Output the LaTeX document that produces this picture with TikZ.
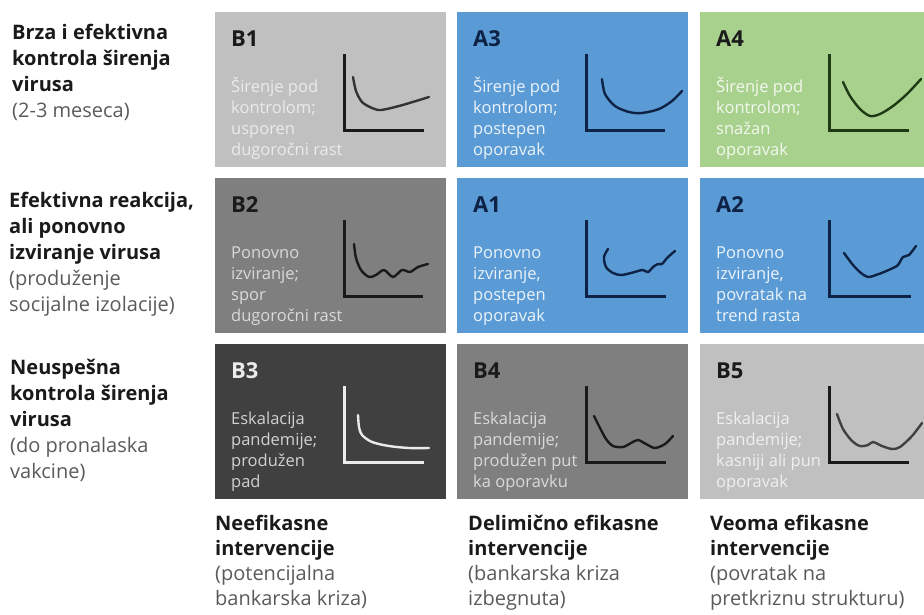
\documentclass[tikz,border=0pt]{standalone}
\usepackage{fontspec}
\setmainfont{Open Sans}

\definecolor{lightgrey}{HTML}{C0C0C0}
\definecolor{midgrey}{HTML}{7F7F7F}
\definecolor{darkgrey}{HTML}{404040}
\definecolor{officeblue}{HTML}{5B9BD5}
\definecolor{officegreen}{HTML}{A9D18E}
\definecolor{navy}{HTML}{0E2245}
\definecolor{forest}{HTML}{1E3A14}
\definecolor{ink}{HTML}{1A1A1A}
\definecolor{note}{HTML}{5A5A5A}

% multi-line nodes sit on the baseline of their last line
\tikzset{
  cell/.style={anchor=north west, minimum width=231pt, minimum height=155pt, inner sep=0pt},
  code/.style={anchor=base west, inner sep=0pt, font=\fontsize{22}{26}\selectfont\bfseries},
  blurb/.style={anchor=base west, inner sep=0pt, align=left, font=\fontsize{16.5}{20.7}\selectfont},
  heading/.style={anchor=base west, inner sep=0pt, align=left, text=ink, font=\fontsize{20}{25.8}\selectfont},
  axes/.style={line width=3pt},
  trend/.style={line width=2.4pt, line cap=round},
}

\begin{document}
\begin{tikzpicture}[x=1pt, y=-1pt]
  \useasboundingbox (0,0) rectangle (924,614);

  % row headings
  \node[heading] (quick) at (12,117) {\textbf{Brza i efektivna}\\\textbf{kontrola širenja}\\\textbf{virusa}\\\textcolor{note}{(2-3 meseca)}};
  \node[heading] (relapse) at (9,311) {\textbf{Efektivna reakcija,}\\\textbf{ali ponovno}\\\textbf{izviranje virusa}\\\textcolor{note}{(produženje}\\\textcolor{note}{socijalne izolacije)}};
  \node[heading] (failed) at (10,478) {\textbf{Neuspešna}\\\textbf{kontrola širenja}\\\textbf{virusa}\\\textcolor{note}{(do pronalaska}\\\textcolor{note}{vakcine)}};

  % column headings
  \node[heading, font=\fontsize{20}{25}\selectfont] (weak) at (215,605) {\textbf{Neefikasne}\\\textbf{intervencije}\\\textcolor{note}{(potencijalna}\\\textcolor{note}{bankarska kriza)}};
  \node[heading, font=\fontsize{20}{25}\selectfont] (partial) at (468,605) {\textbf{Delimično efikasne}\\\textbf{intervencije}\\\textcolor{note}{(bankarska kriza}\\\textcolor{note}{izbegnuta)}};
  \node[heading, font=\fontsize{20}{25}\selectfont] (strong) at (710,605) {\textbf{Veoma efikasne}\\\textbf{intervencije}\\\textcolor{note}{(povratak na}\\\textcolor{note}{pretkriznu strukturu)}};

  % cells
  \node[cell, fill=lightgrey] (b1) at (215,12) {};
  \node[cell, fill=officeblue] (a3) at (457,12) {};
  \node[cell, fill=officegreen, minimum width=224pt] (a4) at (700,12) {};
  \node[cell, fill=midgrey] (b2) at (215,178) {};
  \node[cell, fill=officeblue] (a1) at (457,178) {};
  \node[cell, fill=officeblue, minimum width=224pt] (a2) at (700,178) {};
  \node[cell, fill=darkgrey] (b3) at (215,344) {};
  \node[cell, fill=midgrey] (b4) at (457,344) {};
  \node[cell, fill=lightgrey, minimum width=224pt] (b5) at (700,344) {};

  % scenario codes
  \node[code, text=ink] (b1code) at (231,46) {B1};
  \node[code, text=navy] (a3code) at (473,46) {A3};
  \node[code, text=ink] (a4code) at (716,46) {A4};
  \node[code, text=ink] (b2code) at (231,212) {B2};
  \node[code, text=navy] (a1code) at (473,212) {A1};
  \node[code, text=navy] (a2code) at (716,212) {A2};
  \node[code, text=white!92!black] (b3code) at (231,378) {B3};
  \node[code, text=ink] (b4code) at (473,378) {B4};
  \node[code, text=ink] (b5code) at (716,378) {B5};

  % descriptions
  \node[blurb, text=white!92!black] (b1text) at (231,155) {Širenje pod\\kontrolom;\\usporen\\dugoročni rast};
  \node[blurb, text=white!88!officeblue] (a3text) at (473,155) {Širenje pod\\kontrolom;\\postepen\\oporavak};
  \node[blurb, text=white!85!officegreen] (a4text) at (716,155) {Širenje pod\\kontrolom;\\snažan\\oporavak};
  \node[blurb, text=white!85!black] (b2text) at (231,321) {Ponovno\\izviranje;\\spor\\dugoročni rast};
  \node[blurb, text=white!88!officeblue] (a1text) at (473,321) {Ponovno\\izviranje,\\postepen\\oporavak};
  \node[blurb, text=white!88!officeblue] (a2text) at (716,321) {Ponovno\\izviranje,\\povratak na\\trend rasta};
  \node[blurb, text=white!82!black] (b3text) at (231,487) {Eskalacija\\pandemije;\\produžen\\pad};
  \node[blurb, text=white!85!black] (b4text) at (473,487) {Eskalacija\\pandemije;\\produžen put\\ka oporavku};
  \node[blurb, text=white!94!black] (b5text) at (716,487) {Eskalacija\\pandemije;\\kasniji ali pun\\oporavak};

  % small charts
  \begin{scope}[shift={(344,130)}]
    \draw[axes, ink] (0,-76) -- (0,0) -- (80,0);
    \draw[trend, black!80] plot[smooth] coordinates {(9,-53) (12,-39) (18,-28) (28,-22) (37,-20) (55,-24) (72,-29) (85,-33)};
  \end{scope}
  \begin{scope}[shift={(586,130)}]
    \draw[axes, navy] (0,-76) -- (0,0) -- (79,0);
    \draw[trend, navy] plot[smooth] coordinates {(16,-51) (19,-36) (29,-24) (43,-18) (56,-17) (73,-21) (86,-29) (96,-39)};
  \end{scope}
  \begin{scope}[shift={(829,130)}]
    \draw[axes, forest] (0,-76) -- (0,0) -- (80,0);
    \draw[trend, forest] plot[smooth] coordinates {(14,-48) (21,-34) (31,-21) (41,-14) (51,-16) (64,-24) (78,-36) (92,-51)};
  \end{scope}
  \begin{scope}[shift={(344,296)}]
    \draw[axes, ink] (0,-76) -- (0,0) -- (79,0);
    \draw[trend, ink] plot[smooth] coordinates {(10,-52) (12,-38) (17,-26) (25,-19) (32,-21) (40,-26) (49,-19) (58,-26) (66,-24) (74,-29) (84,-32)};
  \end{scope}
  \begin{scope}[shift={(586,296)}]
    \draw[axes, navy] (0,-76) -- (0,0) -- (80,0);
    \draw[trend, navy] plot[smooth] coordinates {(22,-47) (18,-39) (20,-29) (27,-23) (35,-21) (45,-23) (52,-25) (57,-26) (62,-24) (67,-29) (72,-32) (76,-32) (81,-38) (89,-45)};
  \end{scope}
  \begin{scope}[shift={(829,296)}]
    \draw[axes, navy] (0,-76) -- (0,0) -- (82,0);
    \draw[trend, navy] plot[smooth] coordinates {(15,-43) (24,-31) (32,-23) (39,-19) (47,-21) (55,-24) (64,-28) (69,-31) (74,-39) (80,-41) (87,-50)};
  \end{scope}
  \begin{scope}[shift={(344,462)}]
    \draw[axes, white!92!black] (0,-76) -- (0,0) -- (80,0);
    \draw[trend, white!92!black] plot[smooth] coordinates {(14,-47) (15,-35) (18,-27) (28,-20) (45,-16) (65,-14) (85,-14)};
  \end{scope}
  \begin{scope}[shift={(586,462)}]
    \draw[axes, ink] (0,-76) -- (0,0) -- (80,0);
    \draw[trend, ink] plot[smooth] coordinates {(8,-46) (14,-34) (20,-23) (27,-16) (37,-15) (45,-19) (52,-22) (60,-18) (69,-14) (79,-18) (87,-26)};
  \end{scope}
  \begin{scope}[shift={(829,462)}]
    \draw[axes, ink] (0,-76) -- (0,0) -- (80,0);
    \draw[trend, black!75] plot[smooth] coordinates {(8,-48) (14,-33) (23,-21) (31,-16) (39,-17) (44,-20) (53,-16) (63,-13) (71,-15) (83,-26) (93,-39)};
  \end{scope}
\end{tikzpicture}
\end{document}
